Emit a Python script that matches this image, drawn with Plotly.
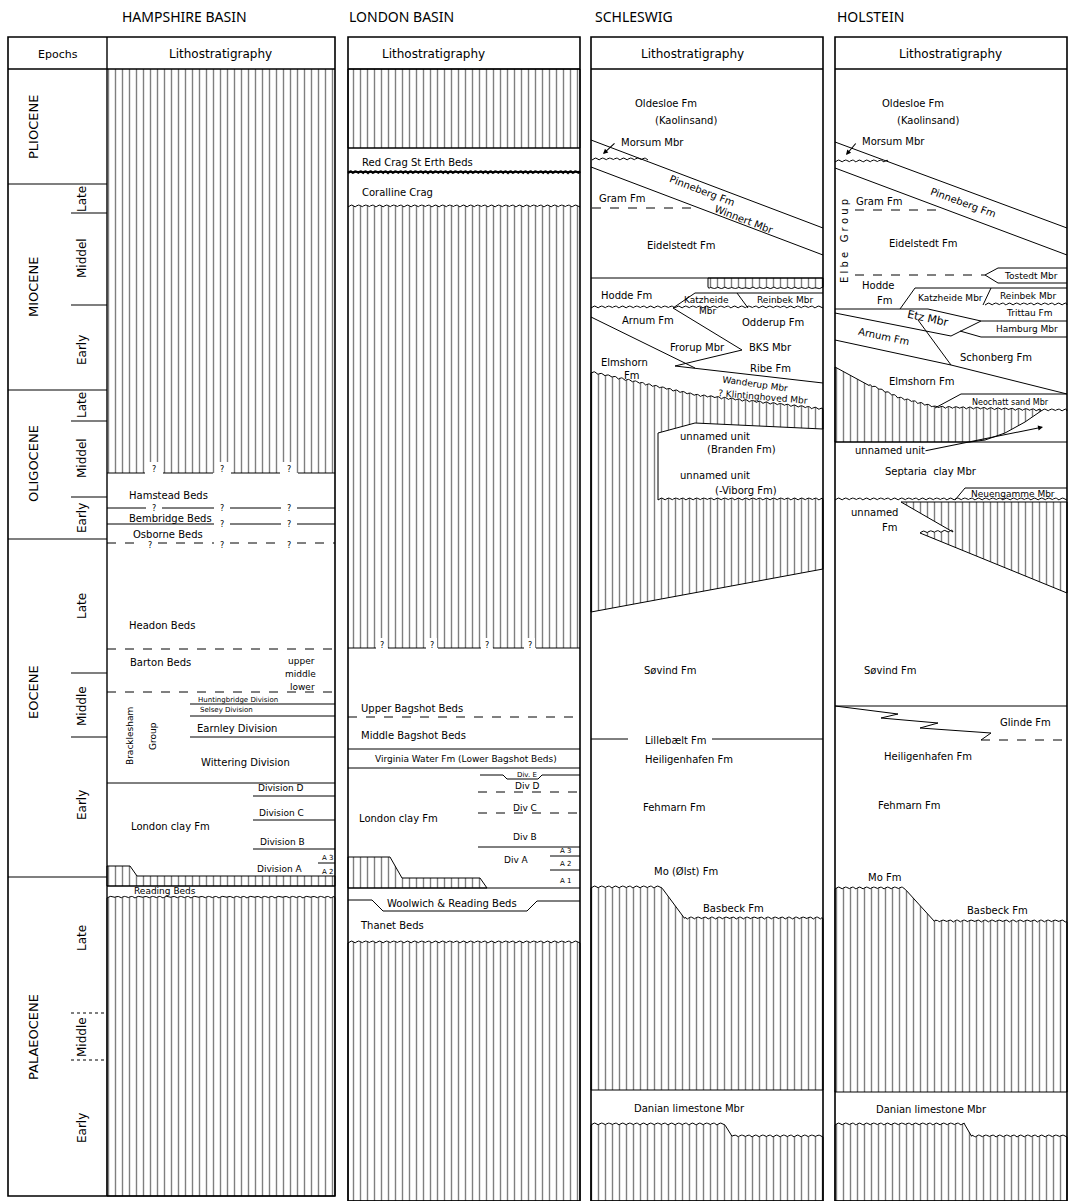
import numpy as np
import plotly.graph_objects as go

# ======================= DATA (chart units = page pixels, y downwards) =======================
col_titles = ["HAMPSHIRE BASIN", "LONDON BASIN", "SCHLESWIG", "HOLSTEIN"]
col_left = [8, 348, 591, 835]
col_right = [335, 580, 823, 1067]
col_bottom = [1196, 1201, 1201, 1201]
title_left = [120, 347, 593, 835]
litho_header_x = [220, 433, 692, 950]
header_top = 37
header_bottom = 69
epoch_divider = 107

epoch_names = ["PLIOCENE", "MIOCENE", "OLIGOCENE", "EOCENE", "PALAEOCENE"]
epoch_bounds = [69, 184, 390, 539, 877, 1196]
epoch_label_y = [127, 287, 464, 692, 1037]
sub_epoch_names = ["Late", "Middel", "Early", "Late", "Middel", "Early",
                   "Late", "Middle", "Early", "Late", "Middle", "Early"]
sub_epoch_label_y = [199, 258, 350, 405, 458, 518, 606, 706, 805, 938, 1037, 1128]
sub_epoch_ticks = [213, 305, 421, 497, 673, 737]
sub_epoch_ticks_dashed = [1013, 1060]

# ---- Hampshire Basin ----
hamp_upper_hatch_base = 473
hamp_query_x = [154, 222, 289]
hamp_query_lines_y = [508, 524, 543]
hamp_query_lines_marks = [[154, 222, 289], [222, 289], [150, 222, 289]]
hamp_query_lines_dash = ["solid", "solid", "dash"]
hamp_strip_x = [107, 130, 137, 335, 335, 107]
hamp_strip_y = [866, 866, 876, 876, 886, 886]
hamp_lower_hatch_top = 898
hamp_line_x0 = [107, 107, 190, 190, 190, 107, 253, 253, 253, 318, 107]
hamp_line_x1 = [335, 335, 335, 335, 335, 335, 335, 335, 335, 335, 335]
hamp_line_y = [649, 692, 704, 716, 737, 783, 796, 820, 849, 863, 886]
hamp_line_dash = ["dash", "dash", "solid", "solid", "solid", "solid", "solid", "solid", "solid", "solid", "solid"]

# ---- London Basin ----
lond_hatch1_base = 148
lond_redcrag_base = 173
lond_hatch2_top = 207
lond_hatch2_base = 648
lond_query_x = [382, 432, 487, 530]
lond_line_x0 = [348, 348, 348, 478, 478, 478, 550, 550, 348]
lond_line_x1 = [580, 580, 580, 580, 580, 580, 580, 580, 580]
lond_line_y = [717, 749, 768, 792, 813, 847, 856, 870, 888]
lond_line_dash = ["dash", "solid", "solid", "dash", "dash", "solid", "solid", "solid", "solid"]
lond_divE_x = [480, 503, 507, 538, 542, 580]
lond_divE_y = [775, 775, 779, 779, 775, 775]
lond_hatch3_x = [348, 390, 402, 480, 487, 348]
lond_hatch3_y = [857, 857, 878, 878, 888, 888]
lond_woolwich_x = [348, 372, 383, 527, 537, 580]
lond_woolwich_y = [900, 900, 911, 911, 901, 901]
lond_hatch4_top = 943

# ---- Schleswig ----
sch_pinneberg_upper = ([591, 823], [140, 228])
sch_pinneberg_lower = ([591, 823], [167, 255])
sch_morsum_wavy = ([592, 648], [160, 160])
sch_gram_dash = ([592, 698], [208, 208])
sch_hodde_top = ([591, 823], [278, 278])
sch_hodde_hatch = ([708, 823, 823, 708], [278, 278, 287, 287])
sch_hodde_base = ([591, 823], [308, 308])
sch_katzheide = ([673, 695, 823], [308, 293, 293])
sch_katz_reinbek = ([737, 748], [293, 308])
sch_arnum_base = ([591, 695], [317, 368])
sch_frorup = ([673, 742, 675, 823], [308, 350, 366, 383])
sch_mid_hatch_top = ([591, 695, 823], [373, 396, 410])
sch_mid_hatch_mid = ([823, 695, 658, 658], [429, 423, 433, 500])
sch_viborg_top = ([658, 823], [500, 500])
sch_mid_hatch_base = ([823, 591], [569, 612])
sch_lillebaelt = ([591, 628, None, 712, 823], [739, 739, None, 739, 739])
sch_basbeck_top = ([591, 662, 685, 823], [888, 888, 919, 919])
sch_danian_top = 1090
sch_danian_base = ([591, 725, 732, 823], [1125, 1125, 1137, 1137])

# ---- Holstein ----
hol_pinneberg_upper = ([835, 1067], [142, 228])
hol_pinneberg_lower = ([835, 1067], [168, 255])
hol_morsum_wavy = ([835, 888], [162, 162])
hol_gram_dash = ([855, 945], [210, 210])
hol_tostedt_dash = ([855, 985], [275, 275])
hol_tostedt_box = ([1067, 998, 985, 998, 1067], [268, 268, 275, 283, 283])
hol_katzheide = ([900, 915, 1067], [309, 288, 288])
hol_katz_slash = ([991, 983], [288, 305])
hol_reinbek_wavy = ([985, 1067], [305, 305])
hol_trittau_top = ([835, 928, 981, 1067], [309, 309, 321, 321])
hol_hamburg_base = ([960, 981, 1067], [331, 337, 337])
hol_etz = ([835, 951, 981], [313, 336, 321])
hol_arnum_base = ([835, 951, 1067], [340, 365, 394])
hol_arnum_side = ([918, 951], [320, 365])
hol_hatch1_top = ([835, 870, 900, 935, 1041], [367, 386, 399, 408, 411])
hol_hatch1_base = ([1041, 1025, 1005, 985, 970, 835], [411, 422, 433, 440, 442, 442])
hol_neochatt = ([935, 961, 1067], [408, 394, 394])
hol_neochatt_wavy = ([1041, 1067], [411, 411])
hol_septaria_top = ([835, 1067], [442, 442])
hol_wavy_500 = ([835, 1067], [500, 500])
hol_neuengamme = ([955, 965, 1067], [500, 488, 488])
hol_hatch2_x = [901, 1067, 1067, 920]
hol_hatch2_y = [502, 502, 593, 533]
hol_hatch2_notch = ([920, 953], [533, 532])
hol_glinde_top = ([835, 1067], [706, 706])
hol_glinde_zig = ([835, 898, 881, 938, 920, 991, 981], [706, 714, 718, 723, 728, 733, 740])
hol_glinde_base = ([981, 1067], [740, 740])
hol_basbeck_top = ([835, 905, 935, 1067], [889, 889, 922, 922])
hol_danian_top = 1092
hol_danian_base = ([835, 965, 972, 1067], [1125, 1125, 1137, 1137])

# ---- Text labels: (text, x, y) ----
hamp_labels = [("Hamstead Beds", 168, 495), ("Bembridge Beds", 170, 518), ("Osborne Beds", 168, 534),
               ("Headon Beds", 162, 625), ("Barton Beds", 160, 662), ("Earnley Division", 237, 728),
               ("Wittering Division", 245, 762), ("London clay Fm", 170, 826)]
hamp_small_labels = [("upper", 301, 661), ("middle", 300, 674), ("lower", 302, 687),
                     ("Division D", 281, 788), ("Division C", 281, 813), ("Division B", 282, 842),
                     ("Division A", 280, 869), ("Reading Beds", 165, 891)]
hamp_tiny_labels = [("Huntingbridge Division", 238, 700), ("Selsey Division", 226, 710),
                    ("A 3", 327, 858), ("A 2", 327, 872)]
hamp_rot_labels = [("Bracklesham", 130, 736), ("Group", 153, 736)]

lond_labels = [("Red Crag St Erth Beds", 417, 162), ("Coralline Crag", 397, 192),
               ("Upper Bagshot Beds", 412, 708), ("Middle Bagshot Beds", 413, 735),
               ("London clay Fm", 398, 818), ("Woolwich & Reading Beds", 452, 903), ("Thanet Beds", 392, 925)]
lond_small_labels = [("Virginia Water Fm (Lower Bagshot Beds)", 466, 759), ("Div D", 527, 786),
                     ("Div C", 525, 808), ("Div B", 525, 837), ("Div A", 516, 860)]
lond_tiny_labels = [("Div. E", 527, 775), ("A 3", 565, 851), ("A 2", 565, 864), ("A 1", 565, 881)]

sch_labels = [("Oldesloe Fm", 666, 103), ("(Kaolinsand)", 686, 120), ("Morsum Mbr", 652, 142),
              ("Gram Fm", 622, 198), ("Eidelstedt Fm", 681, 245), ("Hodde Fm", 626, 295),
              ("Odderup Fm", 773, 322), ("Arnum Fm", 648, 320), ("Frorup Mbr", 697, 347),
              ("BKS Mbr", 770, 347), ("Ribe Fm", 770, 368), ("Elmshorn", 624, 362), ("Fm", 632, 375),
              ("unnamed unit", 715, 436), ("(Branden Fm)", 741, 449), ("unnamed unit", 715, 475),
              ("(-Viborg Fm)", 746, 490), ("Søvind Fm", 670, 670), ("Lillebælt Fm", 676, 740),
              ("Heiligenhafen Fm", 689, 759), ("Fehmarn Fm", 674, 807), ("Mo (Ølst) Fm", 686, 871),
              ("Basbeck Fm", 733, 908), ("Danian limestone Mbr", 689, 1108)]
sch_small_labels = [("Katzheide", 706, 300), ("Mbr", 707, 311), ("Reinbek Mbr", 785, 300)]
sch_angled_labels = [("Pinneberg Fm", 702, 190, 21), ("Winnert Mbr", 744, 219, 21),
                     ("Wanderup Mbr", 755, 384, 8), ("? Klintinghoved Mbr", 763, 397, 5)]

hol_labels = [("Oldesloe Fm", 913, 103), ("(Kaolinsand)", 928, 120), ("Morsum Mbr", 893, 141),
              ("Gram Fm", 879, 201), ("Eidelstedt Fm", 923, 243), ("Hodde", 878, 285), ("Fm", 885, 300),
              ("Schonberg Fm", 996, 357), ("Elmshorn Fm", 921, 381), ("unnamed unit", 890, 450),
              ("Septaria  clay Mbr", 931, 471), ("unnamed", 874, 512), ("Fm", 890, 527),
              ("Søvind Fm", 890, 670), ("Glinde Fm", 1025, 722), ("Heiligenhafen Fm", 928, 756),
              ("Fehmarn Fm", 909, 805), ("Mo Fm", 884, 877), ("Basbeck Fm", 997, 910),
              ("Danian limestone Mbr", 931, 1109)]
hol_small_labels = [("Tostedt Mbr", 1031, 276), ("Katzheide Mbr", 950, 298), ("Reinbek Mbr", 1028, 296),
                    ("Trittau Fm", 1029, 313), ("Hamburg Mbr", 1027, 329), ("Neuengamme Mbr", 1013, 494)]
hol_tiny_labels = [("Neochatt sand Mbr", 1010, 402)]
hol_angled_labels = [("Pinneberg Fm", 963, 202, 20), ("Etz Mbr", 928, 318, 12), ("Arnum Fm", 884, 336, 12)]

# arrows: (head x, head y, tail x, tail y)
arrows = [(603, 154, 616, 142), (846, 155, 857, 142), (1043, 427, 924, 451)]

# ======================= DRAWING =======================
FONT = "DejaVu Sans"
PATTERN = dict(shape="|", size=7, solidity=0.2, fgcolor="black", bgcolor="white")
fig = go.Figure()


def scallop(px, py, period=7.0, amp=1.9):
    xs, ys = [], []
    s0 = 0.0
    for i in range(len(px) - 1):
        x0, y0, x1, y1 = px[i], py[i], px[i + 1], py[i + 1]
        L = float(np.hypot(x1 - x0, y1 - y0))
        steep = abs(y1 - y0) > 0.5 * abs(x1 - x0)
        n = max(int(L / 0.8), 1)
        for k in range(n):
            t = k / n
            s = s0 + t * L
            off = 0 if steep else amp * abs(np.sin(np.pi * s / period))
            xs.append(x0 + t * (x1 - x0))
            ys.append(y0 + t * (y1 - y0) - off)
        s0 += L
    xs.append(px[-1])
    ys.append(py[-1])
    return xs, ys


def hatch(xs, ys, outline=1.0):
    xs = list(xs) + [xs[0]]
    ys = list(ys) + [ys[0]]
    fig.add_trace(go.Scatter(x=xs, y=ys, mode="lines", fill="toself", fillcolor="white",
                             fillpattern=PATTERN, line=dict(color="black", width=outline),
                             hoverinfo="skip", showlegend=False))


def line(xs, ys, dash="solid", width=1.0):
    fig.add_trace(go.Scatter(x=list(xs), y=list(ys), mode="lines",
                             line=dict(color="black", width=width, dash=dash),
                             hoverinfo="skip", showlegend=False, connectgaps=False))


def wavy(pts, width=1.0, amp=1.9, period=7.0):
    xs, ys = scallop(pts[0], pts[1], period=period, amp=amp)
    line(xs, ys, width=width)


def notched_rect(x0, x1, y0, y1, gaps, half=7, depth=11, top_wavy=False):
    if top_wavy:
        tx, ty = scallop([x0, x1], [y0, y0])
    else:
        tx, ty = [x0, x1], [y0, y0]
    xs, ys = list(tx), list(ty)
    xs += [x1]
    ys += [y1]
    for g in sorted(gaps, reverse=True):
        xs += [g + half, g + half, g - half, g - half]
        ys += [y1, y1 - depth, y1 - depth, y1]
    xs += [x0]
    ys += [y1]
    return xs, ys


def broken_line(x0, x1, y, gaps, half, dash="solid"):
    xs, ys = [x0], [y]
    for g in sorted(gaps):
        xs += [g - half, None, g + half]
        ys += [y, None, y]
    xs.append(x1)
    ys.append(y)
    line(xs, ys, dash=dash)


def label(text, x, y, size=10, angle=0, anchor="center", family=FONT):
    fig.add_annotation(x=x, y=y, xref="x", yref="y", text=text, showarrow=False,
                       textangle=angle, xanchor=anchor, yanchor="middle",
                       font=dict(family=family, size=size, color="black"))


# ---- Hampshire hatches ----
hx, hy = notched_rect(epoch_divider, col_right[0], header_bottom, hamp_upper_hatch_base, hamp_query_x)
hatch(hx, hy, outline=0)
broken_line(epoch_divider, col_right[0], hamp_upper_hatch_base, hamp_query_x, 9)
hatch(hamp_strip_x, hamp_strip_y)
tx, ty = scallop([epoch_divider, col_right[0]], [hamp_lower_hatch_top, hamp_lower_hatch_top], amp=1.6)
hatch(tx + [col_right[0], epoch_divider], ty + [col_bottom[0], col_bottom[0]])

# ---- London hatches ----
hatch([col_left[1], col_right[1], col_right[1], col_left[1]],
      [header_bottom, header_bottom, lond_hatch1_base, lond_hatch1_base])
lx, ly = notched_rect(col_left[1], col_right[1], lond_hatch2_top, lond_hatch2_base, lond_query_x,
                      half=5, depth=10, top_wavy=True)
hatch(lx, ly, outline=0)
wavy(([col_left[1], col_right[1]], [lond_hatch2_top, lond_hatch2_top]))
broken_line(col_left[1], col_right[1], lond_hatch2_base, lond_query_x, 6)
hatch(lond_hatch3_x, lond_hatch3_y)
tx, ty = scallop([col_left[1], col_right[1]], [lond_hatch4_top, lond_hatch4_top])
hatch(tx + [col_right[1], col_left[1]], ty + [col_bottom[1], col_bottom[1]])

# ---- Schleswig hatches ----
bx, by = scallop([sch_hodde_hatch[0][2], sch_hodde_hatch[0][3]], [sch_hodde_hatch[1][2], sch_hodde_hatch[1][3]],
                 amp=-1.5)
hatch([sch_hodde_hatch[0][0], sch_hodde_hatch[0][1]] + bx, [sch_hodde_hatch[1][0], sch_hodde_hatch[1][1]] + by)
t1x, t1y = scallop(*sch_mid_hatch_top)
t2x, t2y = scallop(*sch_viborg_top)
hatch(t1x + sch_mid_hatch_mid[0] + t2x + sch_mid_hatch_base[0],
      t1y + sch_mid_hatch_mid[1] + t2y + sch_mid_hatch_base[1])
tx, ty = scallop(*sch_basbeck_top)
hatch(tx + [col_right[2], col_left[2]], ty + [sch_danian_top, sch_danian_top])
tx, ty = scallop(*sch_danian_base)
hatch(tx + [col_right[2], col_left[2]], ty + [col_bottom[2], col_bottom[2]])

# ---- Holstein hatches ----
tx, ty = scallop(*hol_hatch1_top)
hatch(tx + hol_hatch1_base[0], ty + hol_hatch1_base[1])
nx, ny = scallop(*hol_hatch2_notch, amp=1.8)
hatch(hol_hatch2_x + nx, hol_hatch2_y + ny)
tx, ty = scallop(*hol_basbeck_top)
hatch(tx + [col_right[3], col_left[3]], ty + [hol_danian_top, hol_danian_top])
tx, ty = scallop(*hol_danian_base)
hatch(tx + [col_right[3], col_left[3]], ty + [col_bottom[3], col_bottom[3]])

# ---- Epoch column ----
for b in epoch_bounds[1:-1]:
    line([col_left[0], epoch_divider], [b, b], width=1.2)
for t in sub_epoch_ticks:
    line([71, epoch_divider], [t, t], width=1.2)
for t in sub_epoch_ticks_dashed:
    line([71, epoch_divider], [t, t], dash="dot", width=1.2)
for name, yy in zip(epoch_names, epoch_label_y):
    label(name, 33, yy, size=13, angle=-90)
for name, yy in zip(sub_epoch_names, sub_epoch_label_y):
    label(name, 82, yy, size=12, angle=-90)

# ---- Hampshire lines ----
for yy, marks, dsh in zip(hamp_query_lines_y, hamp_query_lines_marks, hamp_query_lines_dash):
    broken_line(epoch_divider, col_right[0], yy, marks, 8, dash=dsh)
    for g in marks:
        label("?", g, yy + (2 if yy == 543 else 0), size=8)
for x0, x1, yy, dsh in zip(hamp_line_x0, hamp_line_x1, hamp_line_y, hamp_line_dash):
    line([x0, x1], [yy, yy], dash=dsh)
for g in hamp_query_x:
    label("?", g, hamp_upper_hatch_base - 4, size=8)

# ---- London lines ----
line([col_left[1], col_right[1]], [lond_hatch1_base, lond_hatch1_base])
wavy(([col_left[1], col_right[1]], [lond_redcrag_base, lond_redcrag_base]), width=2.2, amp=1.6, period=5)
line([col_left[1], col_right[1]], [lond_redcrag_base - 1, lond_redcrag_base - 1], width=1.5)
for x0, x1, yy, dsh in zip(lond_line_x0, lond_line_x1, lond_line_y, lond_line_dash):
    line([x0, x1], [yy, yy], dash=dsh)
line(lond_divE_x, lond_divE_y)
line(lond_woolwich_x, lond_woolwich_y)
for g in lond_query_x:
    label("?", g, lond_hatch2_base - 3, size=8)

# ---- Schleswig lines ----
line(*sch_pinneberg_upper)
line(*sch_pinneberg_lower)
wavy(sch_morsum_wavy)
line(*sch_gram_dash, dash="dash")
line(*sch_hodde_top)
wavy(sch_hodde_base)
line(*sch_katzheide)
line(*sch_katz_reinbek)
line(*sch_arnum_base)
line(*sch_frorup)
line(*sch_lillebaelt)

# ---- Holstein lines ----
line(*hol_pinneberg_upper)
line(*hol_pinneberg_lower)
wavy(hol_morsum_wavy)
line(*hol_gram_dash, dash="dash")
line(*hol_tostedt_dash, dash="dash")
line(*hol_tostedt_box)
line(*hol_katzheide)
line(*hol_katz_slash)
wavy(hol_reinbek_wavy)
line(*hol_trittau_top)
line(*hol_hamburg_base)
line(*hol_etz)
line(*hol_arnum_base)
line(*hol_arnum_side)
line(*hol_neochatt)
wavy(hol_neochatt_wavy)
line(*hol_septaria_top)
wavy(hol_wavy_500)
line(*hol_neuengamme)
line(*hol_glinde_top)
line(*hol_glinde_zig)
line(*hol_glinde_base, dash="dash")

# ---- Frames ----
for i in range(4):
    x0, x1, yb = col_left[i], col_right[i], col_bottom[i]
    fig.add_shape(type="rect", x0=x0, x1=x1, y0=header_top, y1=yb, xref="x", yref="y",
                  line=dict(color="black", width=1.6), layer="above")
    fig.add_shape(type="line", x0=x0, x1=x1, y0=header_bottom, y1=header_bottom, xref="x", yref="y",
                  line=dict(color="black", width=1.6), layer="above")
    label(col_titles[i], title_left[i], 16, size=14, anchor="left", family="Noto Sans")
    label("Lithostratigraphy", litho_header_x[i], 54, size=12)
fig.add_shape(type="line", x0=epoch_divider, x1=epoch_divider, y0=header_top, y1=col_bottom[0],
              xref="x", yref="y", line=dict(color="black", width=1.4), layer="above")
label("Epochs", 58, 54, size=11)

# ---- Text labels ----
for t, x, y in hamp_labels + lond_labels + sch_labels + hol_labels:
    label(t, x, y, size=10)
for t, x, y in hamp_small_labels + lond_small_labels + sch_small_labels + hol_small_labels:
    label(t, x, y, size=9)
for t, x, y in hamp_tiny_labels + lond_tiny_labels:
    label(t, x, y, size=7)
for t, x, y in hol_tiny_labels:
    label(t, x, y, size=8)
for t, x, y in hamp_rot_labels:
    label(t, x, y, size=9, angle=-90)
label("E l b e   G r o u p", 844, 241, size=10, angle=-90)
for t, x, y, a in sch_angled_labels + hol_angled_labels:
    if t == "Etz Mbr":
        sz = 11
    elif "Mbr" in t and "Winnert" not in t:
        sz = 9
    else:
        sz = 10
    label(t, x, y, size=sz, angle=a)

for hx_, hy_, tx_, ty_ in arrows:
    fig.add_annotation(x=hx_, y=hy_, ax=tx_, ay=ty_, xref="x", yref="y", axref="x", ayref="y",
                       text="", showarrow=True, arrowhead=2, arrowsize=0.9, arrowwidth=1.1,
                       arrowcolor="black")

fig.update_layout(width=1072, height=1201, margin=dict(l=0, r=0, t=0, b=0),
                  paper_bgcolor="white", plot_bgcolor="white", showlegend=False,
                  xaxis=dict(range=[0, 1072], visible=False, fixedrange=True),
                  yaxis=dict(range=[1201, 0], visible=False, fixedrange=True))

fig.write_html("out.html", config={"displayModeBar": False},
               post_script="document.body.style.margin='0';document.body.style.overflow='hidden';")
